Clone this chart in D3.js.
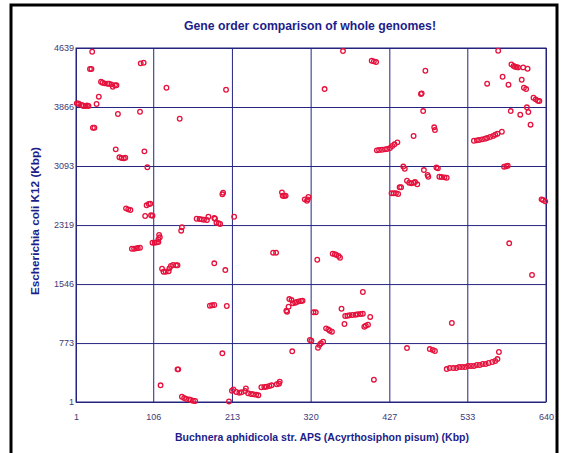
<!DOCTYPE html>
<html>
<head>
<meta charset="utf-8">
<script src="https://cdn.jsdelivr.net/npm/d3@7"></script>
<style>
  html, body { margin: 0; padding: 0; background: #fff; }
  svg { display: block; font-family: Arial, "Liberation Sans", sans-serif; }
</style>
</head>
<body>
<div id="chart"></div>
<script>
// 全基因组基因顺序比较 - 点图

const titleText = "Gene order comparison of whole genomes!";
const xLabel = "Buchnera aphidicola str. APS (Acyrthosiphon pisum) (Kbp)";
const yLabel = "Escherichia coli K12 (Kbp)";

const xTicks = [1, 106, 213, 320, 427, 533, 640];
const yTicks = [1, 773, 1546, 2319, 3093, 3866, 4639];

// [Buchnera Kbp, E. coli Kbp]，按 E. coli 区段分组
const band3866 = [
  [23,4590],[20,4364],[22,4364],[89,4438],[93,4446],
  [35,4197],[37,4184],[40,4176],[44,4171],[46,4171],[49,4163],[51,4131],[54,4150],[56,4150],
  [124,4118],[205,4092],[32,4001],[29,3905],
  [2,3914],[4,3911],[5,3905],[9,3892],[11,3879],[14,3879],[16,3885],[18,3879],
  [364,4599],[403,4472],[406,4464],[409,4455],[339,4101],
  [476,4341],[470,4036],[471,4045],
  [575,4603],[593,4425],[596,4403],[598,4393],[600,4389],[602,4385],[609,4385],[615,4367],
  [560,4171],[581,4262],[589,4158],[607,4223],[610,4118],[613,4101],
  [623,3987],[626,3966],[629,3948],[631,3944]
];

const band3093 = [
  [58,3774],[88,3804],[142,3712],[24,3594],[26,3594],[55,3311],[94,3285],
  [60,3207],[63,3197],[66,3193],[68,3201],[98,3076],
  [410,3298],[413,3302],[417,3306],[421,3311],[424,3315],[428,3328],[431,3355],[434,3377],[438,3403],
  [473,3813],[488,3600],[489,3564],[460,3486],
  [592,3813],[605,3765],[614,3862],[616,3800],[619,3634],[580,3542],
  [542,3424],[546,3429],[549,3433],[553,3442],[557,3450],[560,3459],[564,3473],[568,3486],[571,3503],[574,3516],
  [583,3084],[586,3090],[588,3097],[446,3086],[491,3073]
];

const band2319 = [
  [448,3057],[493,3062],[474,3040],[479,2975],[480,2952],
  [495,2952],[498,2948],[502,2944],[505,2939],
  [451,2900],[454,2874],[457,2866],[460,2874],[462,2883],[465,2853],
  [441,2814],[443,2814],[430,2735],[433,2735],[436,2735],[439,2726],
  [634,2656],[636,2647],[639,2630],
  [69,2538],[72,2525],[75,2516],[97,2578],[100,2595],[102,2599],[95,2438],[103,2447],[105,2442],
  [165,2402],[169,2398],[172,2394],[175,2389],[179,2385],[181,2428],[189,2411],[190,2402],
  [192,2350],[195,2342],[197,2333],[200,2722],[201,2743],[216,2428],
  [281,2748],[282,2704],[284,2700],[286,2704],[312,2656],[315,2638],[316,2656],[317,2687]
];

const band1546 = [
  [590,2080],[621,1665],
  [145,2290],[144,2245],[114,2189],[115,2159],[113,2132],
  [105,2088],[108,2088],[111,2093],[113,2097],
  [77,2009],[80,2009],[83,2014],[85,2018],[88,2022],
  [118,1747],[120,1708],[123,1708],[127,1713],[128,1752],[130,1783],[133,1796],[137,1792],[139,1792],
  [189,1818],[204,1730],
  [269,1957],[273,1957],[329,1865],[350,1944],[353,1939],[355,1927],[358,1914],[360,1891]
];

const band773 = [
  [183,1263],[186,1268],[189,1272],[206,1259],
  [291,1350],[294,1337],[296,1294],[299,1302],[301,1311],[304,1320],[307,1324],[309,1328],
  [290,1249],[287,1197],[288,1184],[324,1176],[327,1176],[362,1223],[391,1442],
  [367,1128],[370,1132],[373,1137],[377,1141],[381,1145],[384,1150],[388,1154],[391,1158],
  [401,1115],[366,1023],[393,987],[395,1001],[398,1014],
  [341,966],[344,953],[346,935],[349,922],[319,813],[321,804],
  [337,791],[334,770],[332,748],[330,712],[512,1036],
  [451,708],[482,695],[486,682],[489,669]
];

const band1 = [
  [200,639],[139,429],[140,429],[116,220],
  [145,70],[148,53],[151,40],[155,36],[157,27],[160,18],[163,14],[209,8],
  [295,665],[406,293],
  [278,267],[277,241],[274,233],[253,194],[257,198],[260,201],[264,211],[267,220],
  [232,180],[231,145],[235,115],[239,106],[242,102],[246,97],[249,89],
  [219,132],[223,123],[226,128],[215,167],[213,149],
  [505,433],[509,446],[514,446],[518,446],[522,459],[526,459],[530,459],[534,473],[538,473],
  [542,473],[546,486],[550,486],[554,499],[558,499],[562,512],[567,525],[571,538],[574,564],[576,656]
];

const hits = [].concat(band3866, band3093, band2319, band1546, band773, band1);

const width = 561;
const height = 453;
const plot = { left: 76, right: 546, top: 48, bottom: 402 };

const navy = "#25257f";
const tickColor = "#3b3b78";
const dotColor = "#e5123d";

const svg = d3.select("#chart")
  .append("svg")
  .attr("width", width)
  .attr("height", height);

svg.append("rect")
  .attr("width", width)
  .attr("height", height)
  .attr("fill", "#fff");

// 外框
svg.append("rect")
  .attr("x", 11)
  .attr("y", 5)
  .attr("width", 546)
  .attr("height", 470)
  .attr("fill", "none")
  .attr("stroke", "#000")
  .attr("stroke-width", 3);

const x = d3.scaleLinear().domain([1, 640]).range([plot.left, plot.right]);
const y = d3.scaleLinear().domain([1, 4639]).range([plot.bottom, plot.top]);

// 网格 + 刻度
const xAxis = svg.append("g")
  .attr("transform", `translate(0,${plot.bottom})`)
  .call(d3.axisBottom(x)
    .tickValues(xTicks)
    .tickSize(-(plot.bottom - plot.top))
    .tickPadding(12)
    .tickFormat(d3.format("d")));

const yAxis = svg.append("g")
  .attr("transform", `translate(${plot.left},0)`)
  .call(d3.axisLeft(y)
    .tickValues(yTicks)
    .tickSize(-(plot.right - plot.left))
    .tickPadding(2)
    .tickFormat(d3.format("d")));

[xAxis, yAxis].forEach(g => {
  g.select(".domain").remove();
  g.selectAll(".tick line")
    .attr("stroke", navy)
    .attr("stroke-width", 1);
  g.selectAll(".tick text")
    .attr("fill", tickColor)
    .style("font-size", "9px");
});

svg.append("rect")
  .attr("x", plot.left)
  .attr("y", plot.top)
  .attr("width", plot.right - plot.left)
  .attr("height", plot.bottom - plot.top)
  .attr("fill", "none")
  .attr("stroke", navy)
  .attr("stroke-width", 1);

// 点
svg.append("g")
  .selectAll("circle")
  .data(hits)
  .join("circle")
  .attr("cx", d => x(d[0]))
  .attr("cy", d => y(d[1]))
  .attr("r", 2.3)
  .attr("fill", "none")
  .attr("stroke", dotColor)
  .attr("stroke-width", 1.3);

// 标题与轴标题
svg.append("text")
  .attr("x", 310)
  .attr("y", 30)
  .attr("text-anchor", "middle")
  .attr("fill", "#1d1d8a")
  .attr("textLength", 252)
  .attr("lengthAdjust", "spacingAndGlyphs")
  .style("font-size", "13px")
  .style("font-weight", "bold")
  .text(titleText);

svg.append("text")
  .attr("x", 322)
  .attr("y", 441)
  .attr("text-anchor", "middle")
  .attr("fill", "#1d1d8a")
  .attr("textLength", 294)
  .attr("lengthAdjust", "spacingAndGlyphs")
  .style("font-size", "11px")
  .style("font-weight", "bold")
  .text(xLabel);

svg.append("text")
  .attr("transform", "translate(39,221) rotate(-90)")
  .attr("text-anchor", "middle")
  .attr("fill", "#1d1d8a")
  .attr("textLength", 148)
  .attr("lengthAdjust", "spacingAndGlyphs")
  .style("font-size", "11px")
  .style("font-weight", "bold")
  .text(yLabel);
</script>
</body>
</html>
